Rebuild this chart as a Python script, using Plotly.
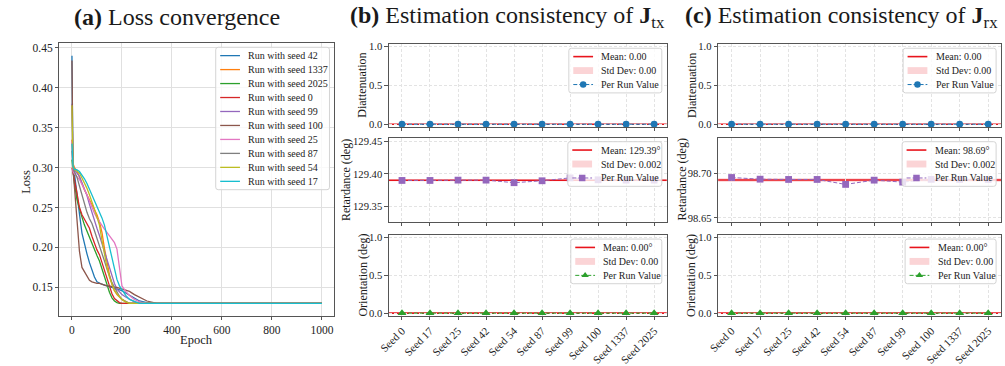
import plotly.graph_objects as go

W, H = 1005, 366
FONT = "Liberation Serif"

# ---------------- (a) loss curves ----------------
epochs = [0, 4, 10, 20, 30, 40, 50, 60, 70, 80, 90, 100, 110, 120, 130, 140,
          150, 160, 170, 180, 190, 200, 215, 230, 250, 270, 300, 340, 1000]

loss_seed_42 = [0.440, 0.300, 0.292, 0.270, 0.242, 0.218, 0.203, 0.192, 0.181, 0.171,
                0.163, 0.157, 0.155, 0.154, 0.153, 0.152, 0.151, 0.150, 0.149, 0.148,
                0.147, 0.146, 0.143, 0.140, 0.136, 0.133, 0.131, 0.130, 0.130]
loss_seed_1337 = [0.335, 0.305, 0.300, 0.296, 0.288, 0.279, 0.272, 0.266, 0.260, 0.254,
                  0.248, 0.241, 0.232, 0.219, 0.199, 0.180, 0.166, 0.154, 0.146, 0.141,
                  0.138, 0.135, 0.132, 0.130, 0.130, 0.130, 0.130, 0.130, 0.130]
loss_seed_2025 = [0.310, 0.295, 0.280, 0.260, 0.248, 0.238, 0.228, 0.220, 0.212, 0.205,
                  0.198, 0.190, 0.183, 0.173, 0.163, 0.153, 0.144, 0.137, 0.133, 0.131,
                  0.130, 0.130, 0.130, 0.130, 0.130, 0.130, 0.130, 0.130, 0.130]
loss_seed_0 = [0.300, 0.295, 0.285, 0.268, 0.250, 0.241, 0.235, 0.230, 0.224, 0.214,
               0.204, 0.197, 0.191, 0.181, 0.170, 0.160, 0.150, 0.142, 0.136, 0.133,
               0.131, 0.130, 0.130, 0.130, 0.130, 0.130, 0.130, 0.130, 0.130]
loss_seed_99 = [0.380, 0.300, 0.297, 0.293, 0.289, 0.281, 0.273, 0.265, 0.254, 0.243,
                0.234, 0.224, 0.215, 0.205, 0.194, 0.184, 0.173, 0.163, 0.155, 0.148,
                0.145, 0.141, 0.138, 0.135, 0.132, 0.130, 0.130, 0.130, 0.130]
loss_seed_100 = [0.434, 0.298, 0.275, 0.235, 0.195, 0.175, 0.170, 0.164, 0.159, 0.157,
                 0.156, 0.155, 0.155, 0.154, 0.153, 0.152, 0.152, 0.151, 0.150, 0.150,
                 0.149, 0.148, 0.147, 0.145, 0.141, 0.138, 0.133, 0.130, 0.130]
loss_seed_25 = [0.333, 0.295, 0.292, 0.289, 0.285, 0.279, 0.273, 0.266, 0.258, 0.250,
                0.243, 0.237, 0.232, 0.227, 0.223, 0.219, 0.215, 0.211, 0.206, 0.198,
                0.175, 0.152, 0.145, 0.140, 0.135, 0.132, 0.130, 0.130, 0.130]
loss_seed_87 = [0.321, 0.300, 0.295, 0.288, 0.277, 0.265, 0.254, 0.244, 0.236, 0.230,
                0.221, 0.212, 0.203, 0.193, 0.183, 0.173, 0.163, 0.156, 0.150, 0.144,
                0.139, 0.135, 0.132, 0.130, 0.130, 0.130, 0.130, 0.130, 0.130]
loss_seed_54 = [0.378, 0.300, 0.298, 0.296, 0.293, 0.287, 0.281, 0.274, 0.266, 0.258,
                0.248, 0.238, 0.228, 0.209, 0.190, 0.175, 0.163, 0.154, 0.146, 0.142,
                0.138, 0.135, 0.132, 0.130, 0.130, 0.130, 0.130, 0.130, 0.130]
loss_seed_17 = [0.330, 0.302, 0.298, 0.297, 0.295, 0.291, 0.286, 0.280, 0.273, 0.266,
                0.258, 0.250, 0.244, 0.237, 0.228, 0.215, 0.199, 0.185, 0.174, 0.160,
                0.152, 0.147, 0.140, 0.135, 0.132, 0.130, 0.130, 0.130, 0.130]

loss_runs = [
    (42, loss_seed_42), (1337, loss_seed_1337), (2025, loss_seed_2025),
    (0, loss_seed_0), (99, loss_seed_99), (100, loss_seed_100),
    (25, loss_seed_25), (87, loss_seed_87), (54, loss_seed_54), (17, loss_seed_17),
]
run_colors = ["#1f77b4", "#ff7f0e", "#2ca02c", "#d62728", "#9467bd",
              "#8c564b", "#e377c2", "#7f7f7f", "#bcbd22", "#17becf"]

# ---------------- (b), (c) per-seed estimates ----------------
seeds = [0, 17, 25, 42, 54, 87, 99, 100, 1337, 2025]
seed_labels = [f"Seed {s}" for s in seeds]

tx_diattenuation = [0.0, 0.0, 0.0, 0.0, 0.0, 0.0, 0.0, 0.0, 0.0, 0.0]
tx_retardance = [129.3900, 129.3900, 129.3905, 129.3905, 129.3865,
                 129.3895, 129.3940, 129.3910, 129.3905, 129.3905]
tx_orientation = [0.0, 0.0, 0.0, 0.0, 0.0, 0.0, 0.0, 0.0, 0.0, 0.0]

rx_diattenuation = [0.0, 0.0, 0.0, 0.0, 0.0, 0.0, 0.0, 0.0, 0.0, 0.0]
rx_retardance = [98.6956, 98.6937, 98.6934, 98.6934, 98.6878,
                 98.6926, 98.6904, 98.6935, 98.6934, 98.6934]
rx_orientation = [0.0, 0.0, 0.0, 0.0, 0.0, 0.0, 0.0, 0.0, 0.0, 0.0]


def mean_std(vals):
    m = sum(vals) / len(vals)
    s = (sum((v - m) ** 2 for v in vals) / len(vals)) ** 0.5
    return m, s


# ---------------- layout geometry (pixels) ----------------
A_BOX = (49, 327, 41, 318)
B_X = (382, 663)
C_X = (715, 1001)
ROWS = [(42, 126), (137, 222.5), (236, 318)]
X_RANGE = [-0.47, 9.45]
# x centre of the rotated y titles, per panel and row
B_YTITLE_X = [355, 339, 356]
C_YTITLE_X = [688, 678, 688]


def dom_x(a, b):
    return [a / W, b / W]


def dom_y(top, bottom):
    return [1 - bottom / H, 1 - top / H]


def merged(*parts, **extra):
    out = {}
    for p in parts:
        out.update(p)
    out.update(extra)
    return out


def text_at(x, y, text, size, angle=0, xanchor="center"):
    return dict(x=x / W, y=1 - y / H, xref="paper", yref="paper", text=text,
                showarrow=False, xanchor=xanchor, yanchor="middle", textangle=angle,
                font=dict(family=FONT, size=size, color="#1a1a1a"))


AXIS_COMMON = dict(
    showline=True, linecolor="#555", linewidth=1, mirror=True,
    ticks="outside", ticklen=3.5, tickwidth=1, tickcolor="#555",
    zeroline=False,
)
DASH_GRID = dict(showgrid=True, gridcolor="#e3e3e3", gridwidth=0.8, griddash="3px,2px")

traces = []
shapes = []
annotations = []
layout = dict(
    width=W, height=H,
    margin=dict(l=0, r=0, t=0, b=0),
    paper_bgcolor="white", plot_bgcolor="rgba(0,0,0,0)",
    showlegend=False,
    font=dict(family=FONT, color="#222"),
)

# panel (a)
layout["xaxis"] = merged(
    AXIS_COMMON, domain=dom_x(A_BOX[0], A_BOX[1]), anchor="y",
    range=[-50, 1050], tickvals=[0, 200, 400, 600, 800, 1000],
    tickfont=dict(family=FONT, size=11.5, color="#222"),
    showgrid=True, gridcolor="#e0e0e0", gridwidth=1,
)
layout["yaxis"] = merged(
    AXIS_COMMON, domain=dom_y(A_BOX[2], A_BOX[3]), anchor="x",
    range=[0.1145, 0.4555], tickvals=[0.15, 0.20, 0.25, 0.30, 0.35, 0.40, 0.45],
    tickfont=dict(family=FONT, size=11.5, color="#222"),
    tickformat=".2f", showgrid=True, gridcolor="#e0e0e0", gridwidth=1,
)
annotations.append(text_at(188, 343, "Epoch", 12.5))
annotations.append(text_at(15, 182, "Loss", 12.5, angle=-90))
for (seed, vals), color in zip(loss_runs, run_colors):
    traces.append(go.Scatter(x=epochs, y=vals, mode="lines", xaxis="x", yaxis="y",
                             line=dict(color=color, width=1.3), hoverinfo="skip"))

# panels (b) and (c)
row_specs = [
    ("Diattenuation", "#1f77b4", "circle", ".1f", [-0.035, 1.03], [0.0, 0.5, 1.0]),
    ("Retardance (deg)", "#9467bd", "square", ".2f", None, None),
    ("Orientation (deg)", "#2ca02c", "triangle-up", ".1f", [-0.035, 1.03], [0.0, 0.5, 1.0]),
]
panels = [
    (B_X, B_YTITLE_X, [tx_diattenuation, tx_retardance, tx_orientation],
     [129.326, 129.456], [129.35, 129.40, 129.45]),
    (C_X, C_YTITLE_X, [rx_diattenuation, rx_retardance, rx_orientation],
     [98.6456, 98.7404], [98.65, 98.70]),
]

legend_jobs = []
ax_id = 2
for px, title_x, series, ret_range, ret_ticks in panels:
    for r, ((ytitle, color, symbol, fmt, yr, yt), vals) in enumerate(zip(row_specs, series)):
        top, bottom = ROWS[r]
        xa, ya = f"xaxis{ax_id}", f"yaxis{ax_id}"
        xr, yrf = f"x{ax_id}", f"y{ax_id}"
        if yr is None:
            yr, yt = ret_range, ret_ticks
        layout[xa] = merged(
            AXIS_COMMON, DASH_GRID, domain=dom_x(*px), anchor=yrf, range=X_RANGE,
            tickvals=list(range(len(seeds))), ticktext=seed_labels,
            tickfont=dict(family=FONT, size=11, color="#222"),
            showticklabels=(r == 2), tickangle=-45,
        )
        layout[ya] = merged(
            AXIS_COMMON, DASH_GRID, domain=dom_y(top, bottom), anchor=xr, range=yr,
            tickvals=yt, tickformat=fmt,
            tickfont=dict(family=FONT, size=10.6, color="#222"),
        )
        annotations.append(text_at(title_x[r], (top + bottom) / 2, ytitle, 12, angle=-90))
        m, s = mean_std(vals)
        shapes.append(dict(type="rect", xref=f"{xr} domain", yref=yrf, x0=0, x1=1,
                           y0=m - s, y1=m + s, fillcolor="rgba(235,60,70,0.22)",
                           line=dict(width=0), layer="below"))
        shapes.append(dict(type="line", xref=f"{xr} domain", yref=yrf, x0=0, x1=1,
                           y0=m, y1=m, line=dict(color="#e8141c", width=1.6), layer="below"))
        traces.append(go.Scatter(
            x=list(range(len(seeds))), y=vals, mode="lines+markers",
            xaxis=xr, yaxis=yrf, cliponaxis=False, hoverinfo="skip",
            line=dict(color=color, width=1, dash="4px,2px"),
            marker=dict(symbol=symbol, size=6.8 if symbol != "triangle-up" else 7.8,
                        color=color, line=dict(width=0)),
        ))
        if r == 0:
            mean_txt, std_txt = f"Mean: {m:.2f}", f"Std Dev: {s:.2f}"
        elif r == 1:
            mean_txt, std_txt = f"Mean: {m:.2f}°", f"Std Dev: {s:.3f}"
        else:
            mean_txt, std_txt = f"Mean: {m:.2f}°", f"Std Dev: {s:.2f}"
        legend_jobs.append((px[1] - 5, top + 4, [94, 95, 92][r], [
            dict(kind="line", color="#e8141c", width=1.6, text=mean_txt),
            dict(kind="patch", color="rgba(235,60,70,0.22)", text=std_txt),
            dict(kind="linemarker", color=color, symbol=symbol, text="Per Run Value"),
        ]))
        ax_id += 1

legend_jobs.append((A_BOX[1] - 5, A_BOX[2] + 4, 115, [
    dict(kind="line", color=c, width=1.3, text=f"Run with seed {seed}")
    for (seed, _), c in zip(loss_runs, run_colors)
]))

# overlay axis in pixel units used for the legend boxes
OV = ax_id
layout[f"xaxis{OV}"] = dict(domain=[0, 1], range=[0, W], visible=False, anchor=f"y{OV}",
                            fixedrange=True)
layout[f"yaxis{OV}"] = dict(domain=[0, 1], range=[H, 0], visible=False, anchor=f"x{OV}",
                            fixedrange=True)
OX, OY = f"x{OV}", f"y{OV}"

ROW_GAP = 14.2
PAD = 8.5
for right, top, width, rows in legend_jobs:
    left = right - width
    bottom = top + 2 * PAD + (len(rows) - 1) * ROW_GAP
    rr = 2.5
    path = (f"M{left + rr},{top} L{right - rr},{top} Q{right},{top} {right},{top + rr} "
            f"L{right},{bottom - rr} Q{right},{bottom} {right - rr},{bottom} "
            f"L{left + rr},{bottom} Q{left},{bottom} {left},{bottom - rr} "
            f"L{left},{top + rr} Q{left},{top} {left + rr},{top} Z")
    shapes.append(dict(type="path", xref=OX, yref=OY, path=path,
                       fillcolor="rgba(255,255,255,0.8)",
                       line=dict(color="#d4d4d4", width=1), layer="below"))
    x0, x1 = left + 4.5, left + 24.5
    for i, row in enumerate(rows):
        ry = top + PAD + i * ROW_GAP
        if row["kind"] == "line":
            traces.append(go.Scatter(x=[x0, x1], y=[ry, ry], mode="lines", xaxis=OX, yaxis=OY,
                                     line=dict(color=row["color"], width=row["width"]),
                                     hoverinfo="skip"))
        elif row["kind"] == "patch":
            traces.append(go.Scatter(x=[x0, x1, x1, x0, x0],
                                     y=[ry - 3.5, ry - 3.5, ry + 3.5, ry + 3.5, ry - 3.5],
                                     mode="lines", fill="toself", fillcolor=row["color"],
                                     line=dict(width=0), xaxis=OX, yaxis=OY, hoverinfo="skip"))
        else:
            traces.append(go.Scatter(
                x=[x0, x1], y=[ry, ry], mode="lines", xaxis=OX, yaxis=OY, hoverinfo="skip",
                line=dict(color=row["color"], width=1, dash="4px,2px"),
            ))
            traces.append(go.Scatter(
                x=[(x0 + x1) / 2], y=[ry], mode="markers", xaxis=OX, yaxis=OY,
                hoverinfo="skip",
                marker=dict(symbol=row["symbol"], size=6.5, color=row["color"],
                            line=dict(width=0)),
            ))
        annotations.append(dict(x=left + 31, y=ry, xref=OX, yref=OY, text=row["text"],
                                showarrow=False, xanchor="left", yanchor="middle",
                                font=dict(family=FONT, size=10, color="#222")))

# panel titles
titles = [
    (168, "<b>(a)</b> Loss convergence"),
    (502, "<b>(b)</b> Estimation consistency of <b>J</b><sub>tx</sub>"),
    (840, "<b>(c)</b> Estimation consistency of <b>J</b><sub>rx</sub>"),
]
for cx, txt in titles:
    annotations.append(text_at(cx, 14, txt, 24))

layout["shapes"] = shapes
layout["annotations"] = annotations

fig = go.Figure(data=traces, layout=layout)
fig.write_html("out.html")
